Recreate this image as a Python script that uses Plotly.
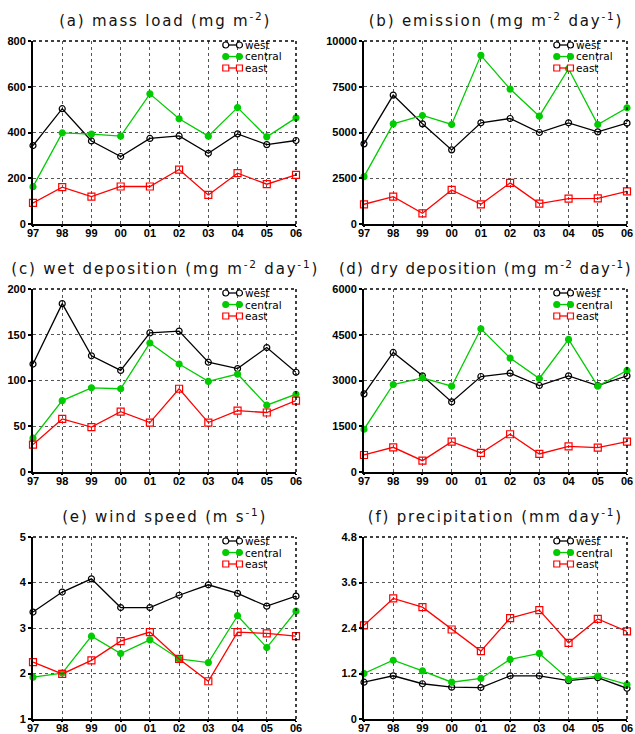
import plotly.graph_objects as go

years = ["97", "98", "99", "00", "01", "02", "03", "04", "05", "06"]

# (a) mass load
mass_west = [343, 504, 363, 295, 374, 385, 309, 394, 347, 365]
mass_central = [163, 398, 393, 384, 569, 460, 384, 509, 381, 464]
mass_east = [92, 161, 120, 164, 164, 238, 127, 222, 174, 215]

# (b) emission
emis_west = [4380, 7044, 5474, 4051, 5529, 5766, 5000, 5529, 5036, 5511]
emis_central = [2591, 5474, 5930, 5438, 9215, 7372, 5894, 8485, 5438, 6350]
emis_east = [1077, 1496, 584, 1861, 1077, 2245, 1113, 1387, 1405, 1788]

# (c) wet deposition
wet_west = [118, 184, 127, 111, 152, 154, 120, 113, 136, 109]
wet_central = [37, 78, 92, 91, 141, 118, 99, 107, 73, 85]
wet_east = [30, 58, 49, 66, 54, 91, 54, 67, 65, 78]

# (d) dry deposition
dry_west = [2562, 3920, 3153, 2299, 3131, 3241, 2836, 3153, 2836, 3153]
dry_central = [1401, 2869, 3088, 2814, 4697, 3734, 3066, 4347, 2814, 3329]
dry_east = [558, 810, 372, 996, 624, 1237, 591, 843, 799, 996]

# (e) wind speed
wind_west = [3.35, 3.79, 4.08, 3.45, 3.45, 3.72, 3.95, 3.76, 3.48, 3.70]
wind_central = [1.92, 2.01, 2.82, 2.44, 2.74, 2.32, 2.24, 3.27, 2.57, 3.37]
wind_east = [2.25, 1.99, 2.29, 2.71, 2.91, 2.32, 1.83, 2.91, 2.88, 2.82]

# (f) precipitation
prec_west = [0.97, 1.14, 0.93, 0.84, 0.83, 1.14, 1.14, 1.01, 1.09, 0.81]
prec_central = [1.20, 1.55, 1.27, 0.97, 1.07, 1.57, 1.73, 1.05, 1.13, 0.91]
prec_east = [2.47, 3.18, 2.95, 2.36, 1.79, 2.66, 2.87, 2.01, 2.64, 2.31]

titles = [
    "(a) mass load (mg m<sup>-2</sup>)",
    "(b) emission (mg m<sup>-2</sup> day<sup>-1</sup>)",
    "(c) wet deposition (mg m<sup>-2</sup> day<sup>-1</sup>)",
    "(d) dry deposition (mg m<sup>-2</sup> day<sup>-1</sup>)",
    "(e) wind speed (m s<sup>-1</sup>)",
    "(f) precipitation (mm day<sup>-1</sup>)",
]
y_ranges = [[0, 800], [0, 10000], [0, 200], [0, 6000], [1, 5], [0, 4.8]]
y_ticks = [
    [0, 200, 400, 600, 800],
    [0, 2500, 5000, 7500, 10000],
    [0, 50, 100, 150, 200],
    [0, 1500, 3000, 4500, 6000],
    [1, 2, 3, 4, 5],
    [0, 1.2, 2.4, 3.6, 4.8],
]
y_ticktext = [
    ["0", "200", "400", "600", "800"],
    ["0", "2500", "5000", "7500", "10000"],
    ["0", "50", "100", "150", "200"],
    ["0", "1500", "3000", "4500", "6000"],
    ["1", "2", "3", "4", "5"],
    ["0", "1.2", "2.4", "3.6", "4.8"],
]
panels = [
    (mass_west, mass_central, mass_east),
    (emis_west, emis_central, emis_east),
    (wet_west, wet_central, wet_east),
    (dry_west, dry_central, dry_east),
    (wind_west, wind_central, wind_east),
    (prec_west, prec_central, prec_east),
]
series_names = ["west", "central", "east"]
colors = ["#000000", "#00cc00", "#ff0000"]
symbols = ["circle-open", "circle", "square-open"]
msizes = [6, 6, 7]

W, H = 635, 734
xdoms = [[33 / W, 296 / W], [364 / W, 627 / W]]
ydoms = [
    [1 - 224 / H, 1 - 41 / H],
    [1 - 472 / H, 1 - 289 / H],
    [1 - 719 / H, 1 - 537 / H],
]
title_xshift = [0, 0, 0, -10, 0, 0]

fig = go.Figure()
layout = dict(
    width=W, height=H, margin=dict(l=0, r=0, t=0, b=0, autoexpand=False),
    paper_bgcolor="white", plot_bgcolor="white", showlegend=False,
)
shapes = []
annotations = []
xidx = list(range(len(years)))
tickfont = dict(family="Liberation Sans", size=11, color="black", weight="bold")

for i in range(6):
    r, c = divmod(i, 2)
    ax = "" if i == 0 else str(i + 1)
    xa, ya = "x" + ax, "y" + ax
    for s in range(3):
        fig.add_trace(go.Scatter(
            x=xidx, y=panels[i][s], mode="lines+markers", name=series_names[s],
            line=dict(color=colors[s], width=1.3),
            marker=dict(symbol=symbols[s], size=msizes[s], color=colors[s],
                        line=dict(color=colors[s], width=1.2)),
            xaxis=xa, yaxis=ya, cliponaxis=False, hoverinfo="skip",
        ))
    common = dict(
        showgrid=True, gridcolor="#555555", griddash="dot", gridwidth=1,
        showline=True, linecolor="black", linewidth=2,
        tickcolor="black", tickwidth=1.5,
        tickfont=tickfont, zeroline=False, fixedrange=True, automargin=False,
    )
    layout["xaxis" + ax] = dict(
        domain=xdoms[c], anchor=ya, range=[0, len(years) - 1],
        tickmode="array", tickvals=xidx, ticktext=years,
        ticks="outside", ticklen=1, ticklabelstandoff=-3, **common,
    )
    layout["yaxis" + ax] = dict(
        domain=ydoms[r], anchor=xa, range=y_ranges[i],
        tickmode="array", tickvals=y_ticks[i], ticktext=y_ticktext[i],
        ticks="outside", ticklen=3, **common,
    )
    # top/right dashed border
    shapes.append(dict(type="line", xref=xa + " domain", yref=ya + " domain",
                       x0=0, x1=1, y0=1, y1=1, line=dict(color="black", width=1.5, dash="dot")))
    shapes.append(dict(type="line", xref=xa + " domain", yref=ya + " domain",
                       x0=1, x1=1, y0=0, y1=1, line=dict(color="black", width=1.5, dash="dot")))
    # title
    annotations.append(dict(
        text=titles[i], xref=xa + " domain", yref=ya + " domain",
        x=0.5, y=1, yshift=21, xshift=title_xshift[i],
        xanchor="center", yanchor="middle", showarrow=False,
        font=dict(family="DejaVu Sans", size=15, color="#111111"),
    ))
    # legend (manual, top-right)
    for s in range(3):
        ypx = -4 - 11.5 * s
        x0, x1 = 0.733, 0.785
        shapes.append(dict(type="line", xref=xa + " domain", yref=ya + " domain",
                           x0=x0, x1=x1, ysizemode="pixel", yanchor=1, y0=ypx, y1=ypx,
                           line=dict(color=colors[s], width=1.3)))
        for xe in (x0, x1):
            half = 3
            typ = "rect" if s == 2 else "circle"
            shapes.append(dict(
                type=typ, xref=xa + " domain", yref=ya + " domain",
                xsizemode="pixel", xanchor=xe, x0=-half, x1=half,
                ysizemode="pixel", yanchor=1, y0=ypx - half, y1=ypx + half,
                line=dict(color=colors[s], width=1.2),
                fillcolor=(colors[s] if s == 1 else "white"),
            ))
        annotations.append(dict(
            text=series_names[s], xref=xa + " domain", yref=ya + " domain",
            x=x1, y=1, xshift=6, yshift=ypx, xanchor="left", yanchor="middle",
            showarrow=False, borderpad=0, borderwidth=0,
            font=dict(family="DejaVu Sans", size=10.5, color="black"),
        ))

layout["shapes"] = shapes
layout["annotations"] = annotations
fig.update_layout(**layout)

post = """
document.body.style.margin = '0';
document.body.style.padding = '0';
document.body.style.overflow = 'hidden';
var st = document.createElement('style');
st.innerHTML = 'g.annotation[data-index="0"] text, g.annotation[data-index="4"] text, g.annotation[data-index="8"] text, g.annotation[data-index="16"] text, g.annotation[data-index="20"] text {letter-spacing: 1.8px;} g.annotation[data-index="12"] text {letter-spacing: 1.4px;}';
document.head.appendChild(st);
"""
fig.write_html("out.html", post_script=post, config={"displayModeBar": False})
